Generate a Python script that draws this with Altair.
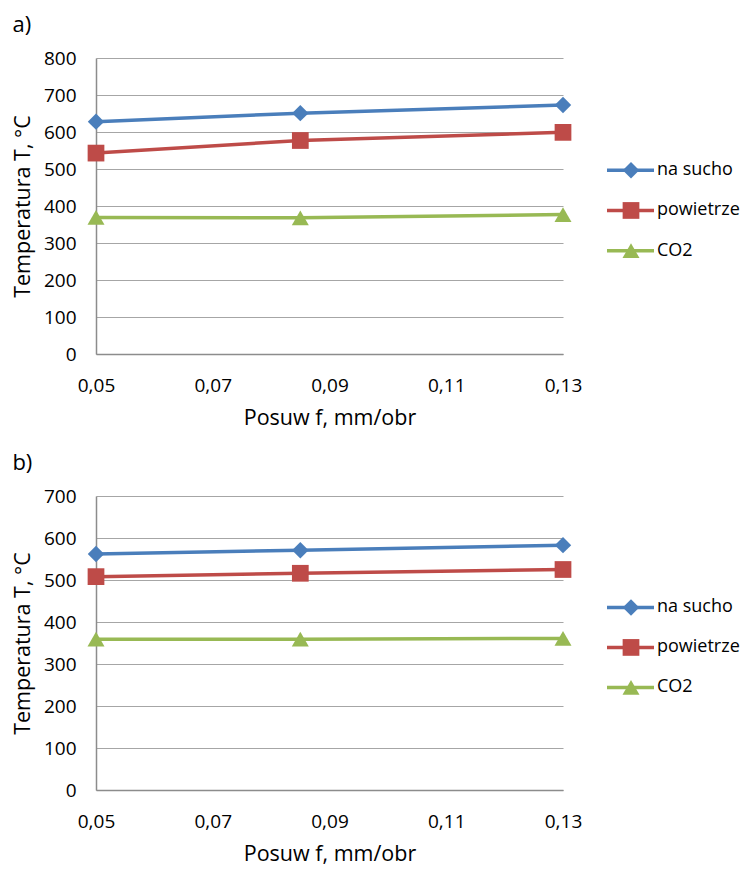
import altair as alt
import pandas as pd

feed = [0.05, 0.085, 0.13]
series = ["na sucho", "powietrze", "CO2"]

a_na_sucho = [628, 651, 673]
a_powietrze = [543, 577, 599]
a_co2 = [369, 368, 377]

b_na_sucho = [562, 571, 583]
b_powietrze = [508, 516, 525]
b_co2 = [359, 359, 361]

x_ticks = [0.05, 0.07, 0.09, 0.11, 0.13]
a_y_ticks = [0, 100, 200, 300, 400, 500, 600, 700, 800]
b_y_ticks = [0, 100, 200, 300, 400, 500, 600, 700]

colors = ["#4A7EBB", "#BE4B48", "#98B954"]
shapes = ["diamond", "square", "triangle-up"]
marker_sizes = [270, 290, 330]
legend_marker_sizes = [150, 170, 190]

FONT = "Open Sans"


def long_df(vals):
    rows = []
    for s, v in zip(series, vals):
        for f, t in zip(feed, v):
            rows.append({"f": f, "T": t, "seria": s})
    return pd.DataFrame(rows)


def panel(vals, yticks, label, h):
    df = long_df(vals)
    color = alt.Color("seria:N", scale=alt.Scale(domain=series, range=colors), legend=None)
    base = alt.Chart(df).encode(
        x=alt.X(
            "f:Q",
            scale=alt.Scale(domain=[0.05, 0.13], nice=False, zero=False),
            axis=alt.Axis(
                values=x_ticks,
                labelExpr="replace(format(datum.value, '.2f'), '.', ',')",
                labelFlush=False,
                title="Posuw f, mm/obr",
                grid=False,
                ticks=False,
                domain=True,
                domainColor="#8C8C8C",
                domainWidth=1.5,
                labelPadding=22,
                titlePadding=12,
            ),
        ),
        y=alt.Y(
            "T:Q",
            scale=alt.Scale(domain=[0, max(yticks)], nice=False),
            axis=alt.Axis(
                values=yticks,
                title="Temperatura T, °C",
                grid=True,
                gridColor="#A6A6A6",
                gridWidth=1.2,
                ticks=False,
                domain=True,
                domainColor="#8C8C8C",
                domainWidth=1.5,
                labelPadding=20,
                titlePadding=9,
            ),
        ),
        color=color,
    )
    lines = base.mark_line(strokeWidth=3.5)
    pts = base.mark_point(filled=True, opacity=1).encode(
        shape=alt.Shape("seria:N", scale=alt.Scale(domain=series, range=shapes), legend=None),
        size=alt.Size("seria:N", scale=alt.Scale(domain=series, range=marker_sizes), legend=None),
    )
    plot = alt.layer(lines, pts).properties(
        width=467,
        height=h,
        title=alt.TitleParams(label, anchor="start", frame="bounds", fontSize=22,
                              fontWeight="normal", font=FONT, color="#000", offset=12),
    )

    leg_df = pd.DataFrame({"seria": series, "idx": [0, 1, 2]})
    ly = alt.Y("idx:Q", scale=alt.Scale(domain=[-2.79, 4.568], reverse=True), axis=None)
    lbase = alt.Chart(leg_df).encode(y=ly)
    lrule = lbase.mark_rule(strokeWidth=3.5).encode(
        x=alt.value(0), x2=alt.value(47), color=color
    )
    lpts = lbase.mark_point(filled=True, opacity=1).encode(
        x=alt.value(24),
        color=color,
        shape=alt.Shape("seria:N", scale=alt.Scale(domain=series, range=shapes), legend=None),
        size=alt.Size("seria:N", scale=alt.Scale(domain=series, range=legend_marker_sizes), legend=None),
    )
    ltext = lbase.mark_text(align="left", baseline="middle", fontSize=18, font=FONT, color="#000").encode(
        x=alt.value(50), text="seria:N"
    )
    leg = alt.layer(lrule, lpts, ltext).properties(width=60, height=h)
    return alt.hconcat(plot, leg, spacing=23)


row_a = panel([a_na_sucho, a_powietrze, a_co2], a_y_ticks, "a)", 296)
row_b = panel([b_na_sucho, b_powietrze, b_co2], b_y_ticks, "b)", 294)

chart = alt.vconcat(row_a, row_b, spacing=23).properties(
    padding={"left": 4, "top": 6, "right": 0, "bottom": 0}
).configure_view(stroke=None).configure_axis(
    labelFont=FONT,
    labelFontSize=19,
    labelColor="#000",
    titleFont=FONT,
    titleFontSize=21.5,
    titleFontWeight="normal",
    titleColor="#000",
)

chart.save("out.html", embed_options={"renderer": "svg", "actions": False})
